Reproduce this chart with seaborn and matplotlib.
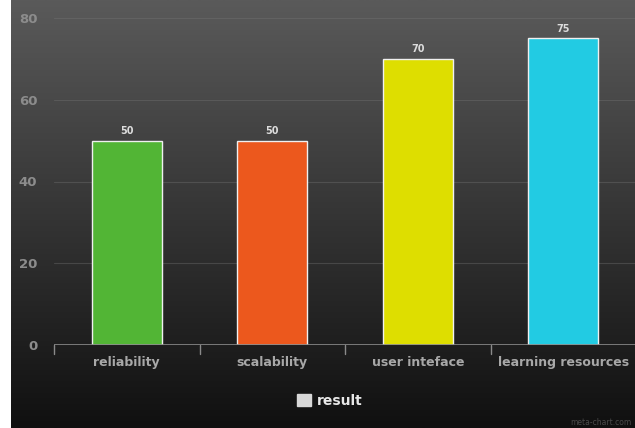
import numpy as np
import pandas as pd
import matplotlib
matplotlib.use("Agg")
import matplotlib.pyplot as plt
from matplotlib.patches import Patch
from matplotlib.colors import LinearSegmentedColormap
import seaborn as sns

categories = ["reliability", "scalability", "user inteface", "learning resources"]
values = [50, 50, 70, 75]
colors = ["#52b535", "#ec581d", "#dede00", "#22cbe3"]
yticks = [0, 20, 40, 60, 80]
series_name = "result"

df = pd.DataFrame({"category": categories, "value": values})

sns.set_theme(style="dark")
plt.rcParams['font.family'] = ['DejaVu Sans']

fig = plt.figure(figsize=(6.35, 4.28), dpi=100, facecolor="white")

# gradient background panel
bg = fig.add_axes([11/635, 0, 1 - 11/635, 1])
grad = np.linspace(0, 1, 256).reshape(-1, 1)
cmap = LinearSegmentedColormap.from_list("bg", ["#5a5a5a", "#101010"])
bg.imshow(grad, aspect="auto", cmap=cmap, extent=[0, 1, 0, 1], origin="upper")
bg.set_axis_off()

ax = fig.add_axes([54/635, 83/428, (636 - 54)/635, (345 - 18)/428])
ax.set_facecolor("none")
ax.patch.set_alpha(0)

sns.barplot(data=df, x="category", y="value", hue="category", palette=colors,
            saturation=1, width=0.48, edgecolor="#f0f0f0", linewidth=1.0,
            legend=False, ax=ax, zorder=3)

ax.set_xlim(-0.5, len(categories) - 0.5)
ax.set_ylim(0, 80)
ax.set_yticks(yticks)
ax.set_yticklabels([str(t) for t in yticks], color="#8c8c8c", fontsize=9.5, fontweight="bold")
ax.tick_params(axis="y", length=0, pad=12)
ax.set_xticks(range(len(categories)))
ax.set_xticklabels(categories, color="#a8a8a8", fontsize=9, fontweight="bold")
ax.tick_params(axis="x", length=0, pad=8)
ax.set_xlabel("")
ax.set_ylabel("")

# category boundary ticks
for b in np.arange(-0.5, len(categories), 1.0):
    ax.plot([b, b], [0, -2.2], color="#8a8a8a", lw=1, clip_on=False, zorder=4)

ax.grid(False)
for t in yticks[1:]:
    ax.axhline(t, color="#7a7a7a", lw=0.8, alpha=0.35, zorder=1)
ax.axhline(0, color="#8a8a8a", lw=1.2, zorder=4)

for s in ax.spines.values():
    s.set_visible(False)

for i, v in enumerate(values):
    ax.text(i, v + 1.2, str(v), ha="center", va="bottom", color="#dcdcdc",
            fontsize=7, fontweight="bold")

leg = fig.legend(handles=[Patch(facecolor="#d8d8d8", edgecolor="#d8d8d8")],
                 labels=[series_name], loc="center", bbox_to_anchor=(330/635, 1 - 401/428),
                 frameon=False, fontsize=10, handlelength=1.0, handleheight=1.0,
                 handletextpad=0.4)
for txt in leg.get_texts():
    txt.set_color("#e8e8e8")
    txt.set_fontweight("bold")

fig.text(0.995, 0.003, "meta-chart.com", ha="right", va="bottom", color="#4a4a4a", fontsize=5.5)

fig.savefig("out.png", dpi=100, facecolor="white")
